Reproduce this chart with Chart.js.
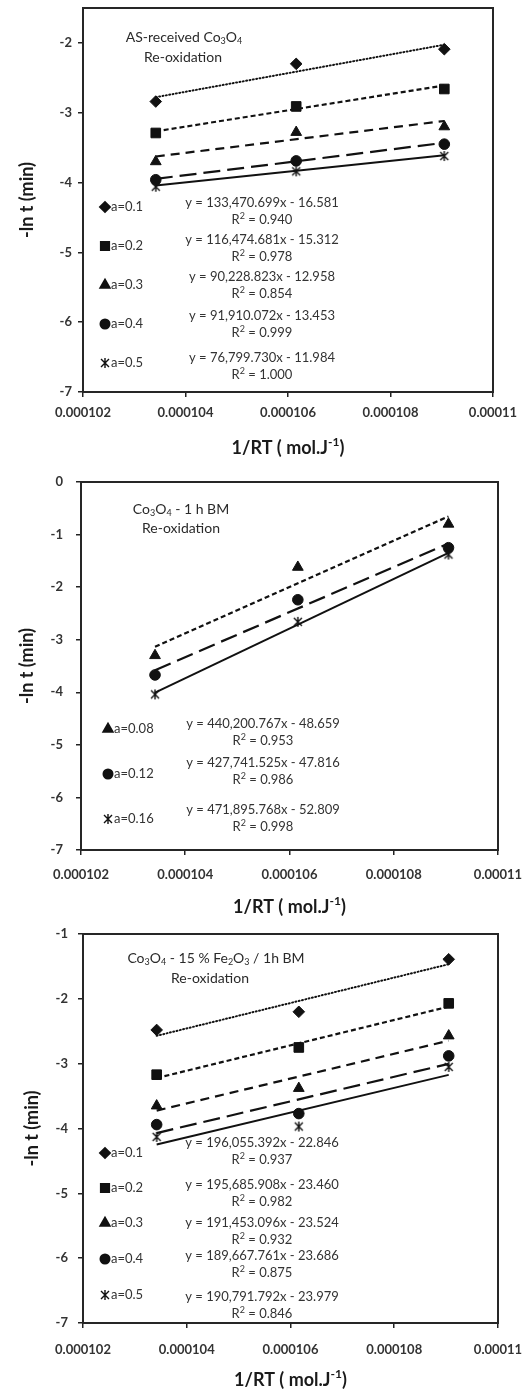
<!DOCTYPE html>
<html>
<head>
<meta charset="utf-8">
<script src="https://cdn.jsdelivr.net/npm/chart.js@4.4.1/dist/chart.umd.min.js"></script>
<style>
  body { margin: 0; background: #fff; width: 525px; height: 1394px; overflow: hidden; }
  .panel { position: absolute; left: 0; width: 525px; }
  canvas { display: block; }
</style>
</head>
<body>
<div class="panel" style="top:0"><canvas id="c1" width="525" height="460"></canvas></div>
<div class="panel" style="top:460px"><canvas id="c2" width="525" height="460"></canvas></div>
<div class="panel" style="top:920px"><canvas id="c3" width="525" height="474"></canvas></div>
<script>
// shared x values: 1/RT at the three re-oxidation temperatures
const xInvRT = [0.00010342, 0.00010616, 0.00010905];
const xTicks = [0.000102, 0.000104, 0.000106, 0.000108, 0.00011];

// panel 1 - as-received Co3O4
const p1Labels = ['a=0.1', 'a=0.2', 'a=0.3', 'a=0.4', 'a=0.5'];
const p1_a01 = [-2.84, -2.30, -2.09];
const p1_a02 = [-3.29, -2.91, -2.66];
const p1_a03 = [-3.70, -3.28, -3.20];
const p1_a04 = [-3.96, -3.69, -3.45];
const p1_a05 = [-4.06, -3.84, -3.62];
const p1Slopes = [133470.699, 116474.681, 90228.823, 91910.072, 76799.730];
const p1Intercepts = [-16.581, -15.312, -12.958, -13.453, -11.984];
const p1R2 = ['0.940', '0.978', '0.854', '0.999', '1.000'];
const p1YTicks = [-7, -6, -5, -4, -3, -2];

// panel 2 - Co3O4 1 h BM
const p2Labels = ['a=0.08', 'a=0.12', 'a=0.16'];
const p2_a008 = [-3.30, -1.62, -0.80];
const p2_a012 = [-3.67, -2.24, -1.25];
const p2_a016 = [-4.04, -2.66, -1.38];
const p2Slopes = [440200.767, 427741.525, 471895.768];
const p2Intercepts = [-48.659, -47.816, -52.809];
const p2R2 = ['0.953', '0.986', '0.998'];
const p2YTicks = [-7, -6, -5, -4, -3, -2, -1, 0];

// panel 3 - Co3O4-15 % Fe2O3 / 1h BM
const p3Labels = ['a=0.1', 'a=0.2', 'a=0.3', 'a=0.4', 'a=0.5'];
const p3_a01 = [-2.48, -2.20, -1.39];
const p3_a02 = [-3.17, -2.75, -2.07];
const p3_a03 = [-3.65, -3.38, -2.57];
const p3_a04 = [-3.94, -3.77, -2.88];
const p3_a05 = [-4.13, -3.97, -3.05];
const p3Slopes = [196055.392, 195685.908, 191453.096, 189667.761, 190791.792];
const p3Intercepts = [-22.846, -23.460, -23.524, -23.686, -23.979];
const p3R2 = ['0.937', '0.982', '0.932', '0.875', '0.846'];
const p3YTicks = [-7, -6, -5, -4, -3, -2, -1];

const FONT = 'Lato, "Open Sans", sans-serif';
const INK = '#111';
const TXT = '#333';

// Excel-style "star" marker: X with a vertical bar
function starMarker(size) {
  const c = document.createElement('canvas');
  c.width = c.height = size;
  const g = c.getContext('2d');
  const m = size / 2, r = size / 2 - 1;
  g.strokeStyle = INK;
  g.lineWidth = 1.4;
  g.beginPath();
  g.moveTo(m, m - r); g.lineTo(m, m + r);
  g.moveTo(m - r * 0.8, m - r * 0.8); g.lineTo(m + r * 0.8, m + r * 0.8);
  g.moveTo(m + r * 0.8, m - r * 0.8); g.lineTo(m - r * 0.8, m + r * 0.8);
  g.stroke();
  return c;
}
const STAR = starMarker(12);

const MARK = {
  diamond: { pointStyle: 'rectRot', radius: 5.8 },
  square: { pointStyle: 'rect', radius: 6.8 },
  triangle: { pointStyle: 'triangle', radius: 6.2 },
  circle: { pointStyle: 'circle', radius: 5.3 },
  star: { pointStyle: STAR, radius: 6 }
};
const DASH = {
  dot: { dash: [1, 2.4], width: 2, cap: 'round' },
  short: { dash: [5, 3], width: 2.2, cap: 'butt' },
  medium: { dash: [9, 6], width: 2.2, cap: 'butt' },
  long: { dash: [17, 7], width: 2.2, cap: 'butt' },
  solid: { dash: [], width: 2, cap: 'butt' }
};

function eqText(m, b) {
  const ms = m.toLocaleString('en-US', { minimumFractionDigits: 3, maximumFractionDigits: 3 });
  return 'y = ' + ms + 'x - ' + Math.abs(b).toFixed(3);
}

// text with _x subscript and ^x superscript (single character each)
function drawRich(ctx, str, x, y, size, weight, align) {
  const runs = [];
  for (let i = 0; i < str.length; i++) {
    const c = str[i];
    if ((c === '_' || c === '^') && i + 1 < str.length) { runs.push({ t: str[i + 1], k: c }); i++; }
    else if (runs.length && runs[runs.length - 1].k === '') runs[runs.length - 1].t += c;
    else runs.push({ t: c, k: '' });
  }
  const big = weight + ' ' + size + 'px ' + FONT;
  const small = weight + ' ' + Math.round(size * 0.66) + 'px ' + FONT;
  ctx.textAlign = 'left';
  ctx.textBaseline = 'middle';
  let w = 0;
  runs.forEach(r => { ctx.font = r.k ? small : big; r.w = ctx.measureText(r.t).width; w += r.w; });
  let cx = align === 'left' ? x : x - w / 2;
  runs.forEach(r => {
    ctx.font = r.k ? small : big;
    const dy = r.k === '_' ? size * 0.28 : (r.k === '^' ? -size * 0.32 : 0);
    ctx.fillText(r.t, cx, y + dy);
    cx += r.w;
  });
}

function decor(p) {
  return {
    id: 'decor' + p.id,
    afterDraw(chart) {
      const { ctx, chartArea: a } = chart;
      ctx.save();
      ctx.strokeStyle = '#262626';
      ctx.lineWidth = 2;
      ctx.strokeRect(a.left, a.top, a.right - a.left, a.bottom - a.top);

      // legend entries and trendline labels
      p.series.forEach((s, i) => {
        const mk = MARK[s.marker];
        ctx.fillStyle = INK;
        ctx.strokeStyle = INK;
        Chart.helpers.drawPoint(ctx, { pointStyle: mk.pointStyle, radius: mk.radius * 0.85, rotation: 0, borderWidth: 1 }, p.legX, p.legY[i]);
        ctx.fillStyle = TXT;
        drawRich(ctx, s.label, p.legX + 6, p.legY[i], 13, 'normal', 'left');
        drawRich(ctx, eqText(s.slope, s.intercept), p.eqX, p.eqY[i], 13, 'normal', 'center');
        drawRich(ctx, 'R^2 = ' + s.r2, p.eqX, p.eqY[i] + p.r2Gap, 13, 'normal', 'center');
      });

      // axis titles
      ctx.fillStyle = '#1a1a1a';
      drawRich(ctx, '1/RT ( mol.J^-^1)', (a.left + a.right) / 2, p.xTitleY, 18, 'bold', 'center');
      ctx.save();
      ctx.translate(p.yTitleX, (a.top + a.bottom) / 2);
      ctx.rotate(-Math.PI / 2);
      drawRich(ctx, '-ln t (min)', 0, 0, 18, 'bold', 'center');
      ctx.restore();

      // sample caption
      ctx.fillStyle = '#2a2a2a';
      p.title.forEach((t, i) => drawRich(ctx, t, p.titleX[i], p.titleY[i], 14, 'normal', 'center'));
      ctx.restore();
    }
  };
}

function makePanel(p) {
  const canvas = document.getElementById(p.id);
  const H = canvas.height;
  const xMin = Math.min(...xInvRT), xMax = Math.max(...xInvRT);
  const datasets = [];
  p.series.forEach(s => {
    const ln = DASH[s.line], mk = MARK[s.marker];
    datasets.push({
      type: 'line',
      data: [xMin, xMax].map(x => ({ x, y: s.slope * x + s.intercept })),
      borderColor: INK, borderWidth: ln.width, borderDash: ln.dash, borderCapStyle: ln.cap,
      pointRadius: 0, fill: false, order: 2
    });
    datasets.push({
      type: 'scatter',
      data: xInvRT.map((x, i) => ({ x, y: s.y[i] })),
      pointStyle: mk.pointStyle, pointRadius: mk.radius, pointHoverRadius: mk.radius,
      backgroundColor: INK, borderColor: INK, borderWidth: 1, showLine: false, order: 1
    });
  });
  const gridCfg = { display: true, drawOnChartArea: false, drawTicks: true, tickLength: 5, color: '#222', lineWidth: 1.5 };
  const tickFont = { family: FONT, size: 13, weight: 'bold' };
  return new Chart(canvas, {
    type: 'scatter',
    data: { datasets },
    options: {
      responsive: false,
      animation: false,
      events: [],
      layout: { padding: { left: 0, top: p.area.top, right: 525 - p.area.right, bottom: 0 } },
      plugins: { legend: { display: false }, tooltip: { enabled: false } },
      scales: {
        x: {
          type: 'linear', position: 'bottom',
          min: xTicks[0], max: xTicks[xTicks.length - 1], bounds: 'data',
          afterBuildTicks: s => { s.ticks = xTicks.map(v => ({ value: v })); },
          afterFit: s => { s.height = H - p.area.bottom; s.paddingLeft = 0; s.paddingRight = 0; },
          ticks: { callback: v => String(v), font: tickFont, color: TXT, padding: p.xTickPad, maxRotation: 0, autoSkip: false },
          grid: gridCfg,
          border: { display: true, color: '#262626', width: 2 }
        },
        y: {
          type: 'linear', position: 'left',
          min: p.yMin, max: p.yMax, bounds: 'data',
          afterBuildTicks: s => { s.ticks = p.yTicks.map(v => ({ value: v })); },
          afterFit: s => { s.width = p.area.left; s.paddingTop = 0; s.paddingBottom = 0; },
          ticks: { callback: v => String(v), font: tickFont, color: TXT, padding: p.yTickPad, autoSkip: false },
          grid: gridCfg,
          border: { display: true, color: '#262626', width: 2 }
        }
      }
    },
    plugins: [decor(p)]
  });
}

function seriesOf(labels, ys, slopes, intercepts, r2, markers, lines) {
  return labels.map((label, i) => ({
    label, y: ys[i], slope: slopes[i], intercept: intercepts[i], r2: r2[i], marker: markers[i], line: lines[i]
  }));
}

function build() {
  makePanel({
    id: 'c1', yMin: -7, yMax: -1.5, yTicks: p1YTicks,
    area: { left: 83, right: 493, top: 8, bottom: 392 },
    xTickPad: 8, yTickPad: 6, xTitleY: 448, yTitleX: 27,
    title: ['AS-received Co_3O_4', 'Re-oxidation'], titleX: [184, 183], titleY: [37, 57],
    legX: 105, legY: [207, 246, 285, 324, 363],
    eqX: 262, eqY: [203, 240, 277, 316, 358], r2Gap: 17,
    series: seriesOf(p1Labels, [p1_a01, p1_a02, p1_a03, p1_a04, p1_a05], p1Slopes, p1Intercepts, p1R2,
      ['diamond', 'square', 'triangle', 'circle', 'star'], ['dot', 'short', 'medium', 'long', 'solid'])
  });

  makePanel({
    id: 'c2', yMin: -7, yMax: 0, yTicks: p2YTicks,
    area: { left: 81, right: 498, top: 22, bottom: 390 },
    xTickPad: 12, yTickPad: 13, xTitleY: 447, yTitleX: 27,
    title: ['Co_3O_4 - 1 h BM', 'Re-oxidation'], titleX: [181, 181], titleY: [49, 68],
    legX: 108, legY: [269, 314, 359],
    eqX: 263, eqY: [264, 303, 350], r2Gap: 17,
    series: seriesOf(p2Labels, [p2_a008, p2_a012, p2_a016], p2Slopes, p2Intercepts, p2R2,
      ['triangle', 'circle', 'star'], ['short', 'long', 'solid'])
  });

  makePanel({
    id: 'c3', yMin: -7, yMax: -1, yTicks: p3YTicks,
    area: { left: 83, right: 498, top: 14, bottom: 403 },
    xTickPad: 14, yTickPad: 10, xTitleY: 460, yTitleX: 32,
    title: ['Co_3O_4 - 15 % Fe_2O_3 / 1h BM', 'Re-oxidation'], titleX: [216, 210], titleY: [38, 58],
    legX: 105, legY: [233, 268, 303, 339, 375],
    eqX: 262, eqY: [223, 265, 303, 336, 377], r2Gap: 17,
    series: seriesOf(p3Labels, [p3_a01, p3_a02, p3_a03, p3_a04, p3_a05], p3Slopes, p3Intercepts, p3R2,
      ['diamond', 'square', 'triangle', 'circle', 'star'], ['dot', 'short', 'medium', 'long', 'solid'])
  });
}

Promise.all([
  document.fonts.load('13px Lato'),
  document.fonts.load('bold 13px Lato')
]).catch(() => {}).then(build);
</script>
</body>
</html>
